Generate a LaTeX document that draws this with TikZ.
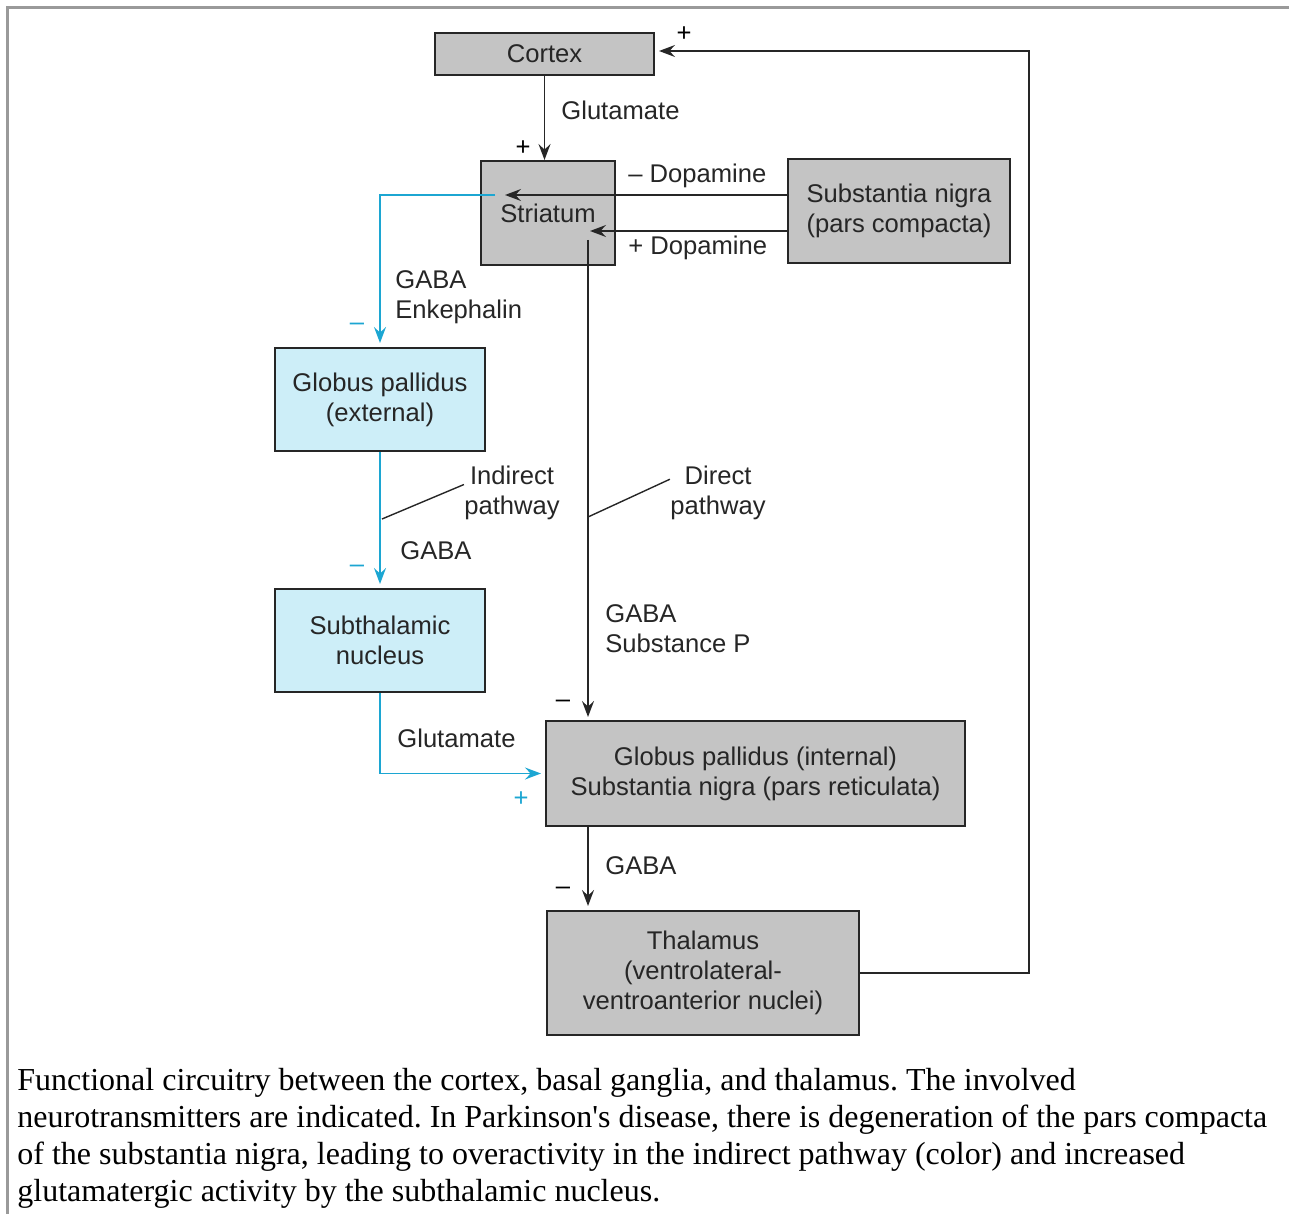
\documentclass[tikz,border=0pt]{standalone}
\usepackage{fontspec}
\setmainfont{Liberation Serif}
\setsansfont{Liberation Sans}
\usetikzlibrary{arrows.meta,positioning,calc}

\definecolor{nucgray}{HTML}{C4C4C4}
\definecolor{nuccyan}{HTML}{CDEEF8}
\definecolor{pathcyan}{HTML}{1CA6D2}
\definecolor{framegray}{HTML}{9A9A9A}
\newcommand{\lblsize}{\fontsize{12.8}{15}\selectfont}

\begin{document}
\begin{tikzpicture}[
    x=0.5pt, y=-0.5pt,
    box/.style={draw=black!85, line width=1pt, fill=nucgray, font=\sffamily\lblsize, text=black!85, align=center, inner sep=0pt},
    cbox/.style={box, fill=nuccyan},
    arr/.style={-{Stealth[length=8pt, width=6pt, inset=2.8pt]}, line width=0.8pt, draw=black!85},
    carr/.style={arr, draw=pathcyan},
    label/.style={font=\sffamily\lblsize, text=black!85, inner sep=0pt},
    sign/.style={font=\sffamily\lblsize, inner sep=0pt},
    caption/.style={font=\fontsize{16}{18.5}\selectfont\frenchspacing, align=left, inner sep=0pt, anchor=north west},
]
\useasboundingbox (0,0) rectangle (1289,1214);

% Frame
\draw[framegray, line width=1.5pt] (7,1214) -- (7,8) -- (1289,8);

% Nuclei
\node[box, minimum width=109.5pt, minimum height=21pt] (ctx) at (544.5,54) {Cortex};
\node[box, minimum width=67pt, minimum height=52pt] (str) at (548,213) {Striatum};
\node[box, minimum width=111pt, minimum height=52pt] (snc) at (899,211) {Substantia nigra\\(pars compacta)};
\node[cbox, minimum width=105pt, minimum height=51.5pt] (gpe) at (380,399.5) {Globus pallidus\\(external)};
\node[cbox, minimum width=105pt, minimum height=51.5pt] (stn) at (380,640.5) {Subthalamic\\nucleus};
\node[box, minimum width=209.5pt, minimum height=52.5pt] (gpi) at (755.5,773.5) {Globus pallidus (internal)\\Substantia nigra (pars reticulata)};
\node[box, minimum width=156pt, minimum height=62pt] (thal) at (703,973) {Thalamus\\(ventrolateral-\\ventroanterior nuclei)};

% Connector ends inside the striatum
\coordinate (dtop) at (505,195);
\coordinate (dbot) at (590,231);
\coordinate (gstart) at (495,195);
\coordinate (dstart) at (588,240);
\coordinate (ipt) at (382,519);
\coordinate (dpt) at (588,517);

% Cortex -> striatum, thalamus -> cortex
\draw[arr] (ctx.south) -- (ctx.south |- str.north);
\draw[arr, shorten >=2pt] (thal.east) -- ++(169,0) |- ([yshift=1.5pt]ctx.east);

% Dopamine
\draw[arr] (snc.west |- dtop) -- (dtop);
\draw[arr] (snc.west |- dbot) -- (dbot);

% Indirect pathway
\draw[carr, shorten >=2pt] (gstart) -| (gpe.north);
\draw[carr, shorten >=2pt] (gpe.south) -- (stn.north);
\draw[carr, shorten >=2pt] (stn.south) |- (gpi.west);

% Direct pathway
\draw[arr, shorten >=1.5pt] (dstart) -- (dstart |- gpi.north);
\draw[arr, shorten >=2pt] (dstart |- gpi.south) -- (dstart |- thal.north);

% Pathway names
\node[label, align=center] (ind) at (512,493) {Indirect\\pathway};
\node[label, align=center] (dir) at (718,493) {Direct\\pathway};
\draw[line width=0.7pt, black!85] (ipt) -- (ind.170);
\draw[line width=0.7pt, black!85] (dpt) -- (dir.164);

% Transmitters
\node[label, anchor=west] (glu1) at (561,110) {Glutamate};
\node[label, anchor=west] (dopm) at (628,176) {– Dopamine};
\node[label, anchor=west] (dopp) at (628,248) {+ Dopamine};
\node[label, anchor=west, align=left] (enk) at (395,297) {GABA\\Enkephalin};
\node[label, anchor=west] (gaba1) at (400,551) {GABA};
\node[label, anchor=west] (glu2) at (397,738) {Glutamate};
\node[label, anchor=west, align=left] (subp) at (605,629) {GABA\\Substance P};
\node[label, anchor=west] (gaba2) at (605,866) {GABA};

% Signs
\node[sign] (s1) at (523,148) {+};
\node[sign] (s2) at (684,34) {+};
\node[sign, text=pathcyan] (s3) at (357,327) {–};
\node[sign, text=pathcyan] (s4) at (357,569) {–};
\node[sign, text=pathcyan] (s5) at (521,799) {+};
\node[sign] (s6) at (563,704) {–};
\node[sign] (s7) at (563,891) {–};

% Caption
\node[caption] (cap) at (17,1068) {Functional circuitry between the cortex, basal ganglia, and thalamus. The involved\\
neurotransmitters are indicated. In Parkinson\textquotesingle s disease, there is degeneration of the pars compacta\\
of the substantia nigra, leading to overactivity in the indirect pathway (color) and increased\\
glutamatergic activity by the subthalamic nucleus.};

\end{tikzpicture}
\end{document}
